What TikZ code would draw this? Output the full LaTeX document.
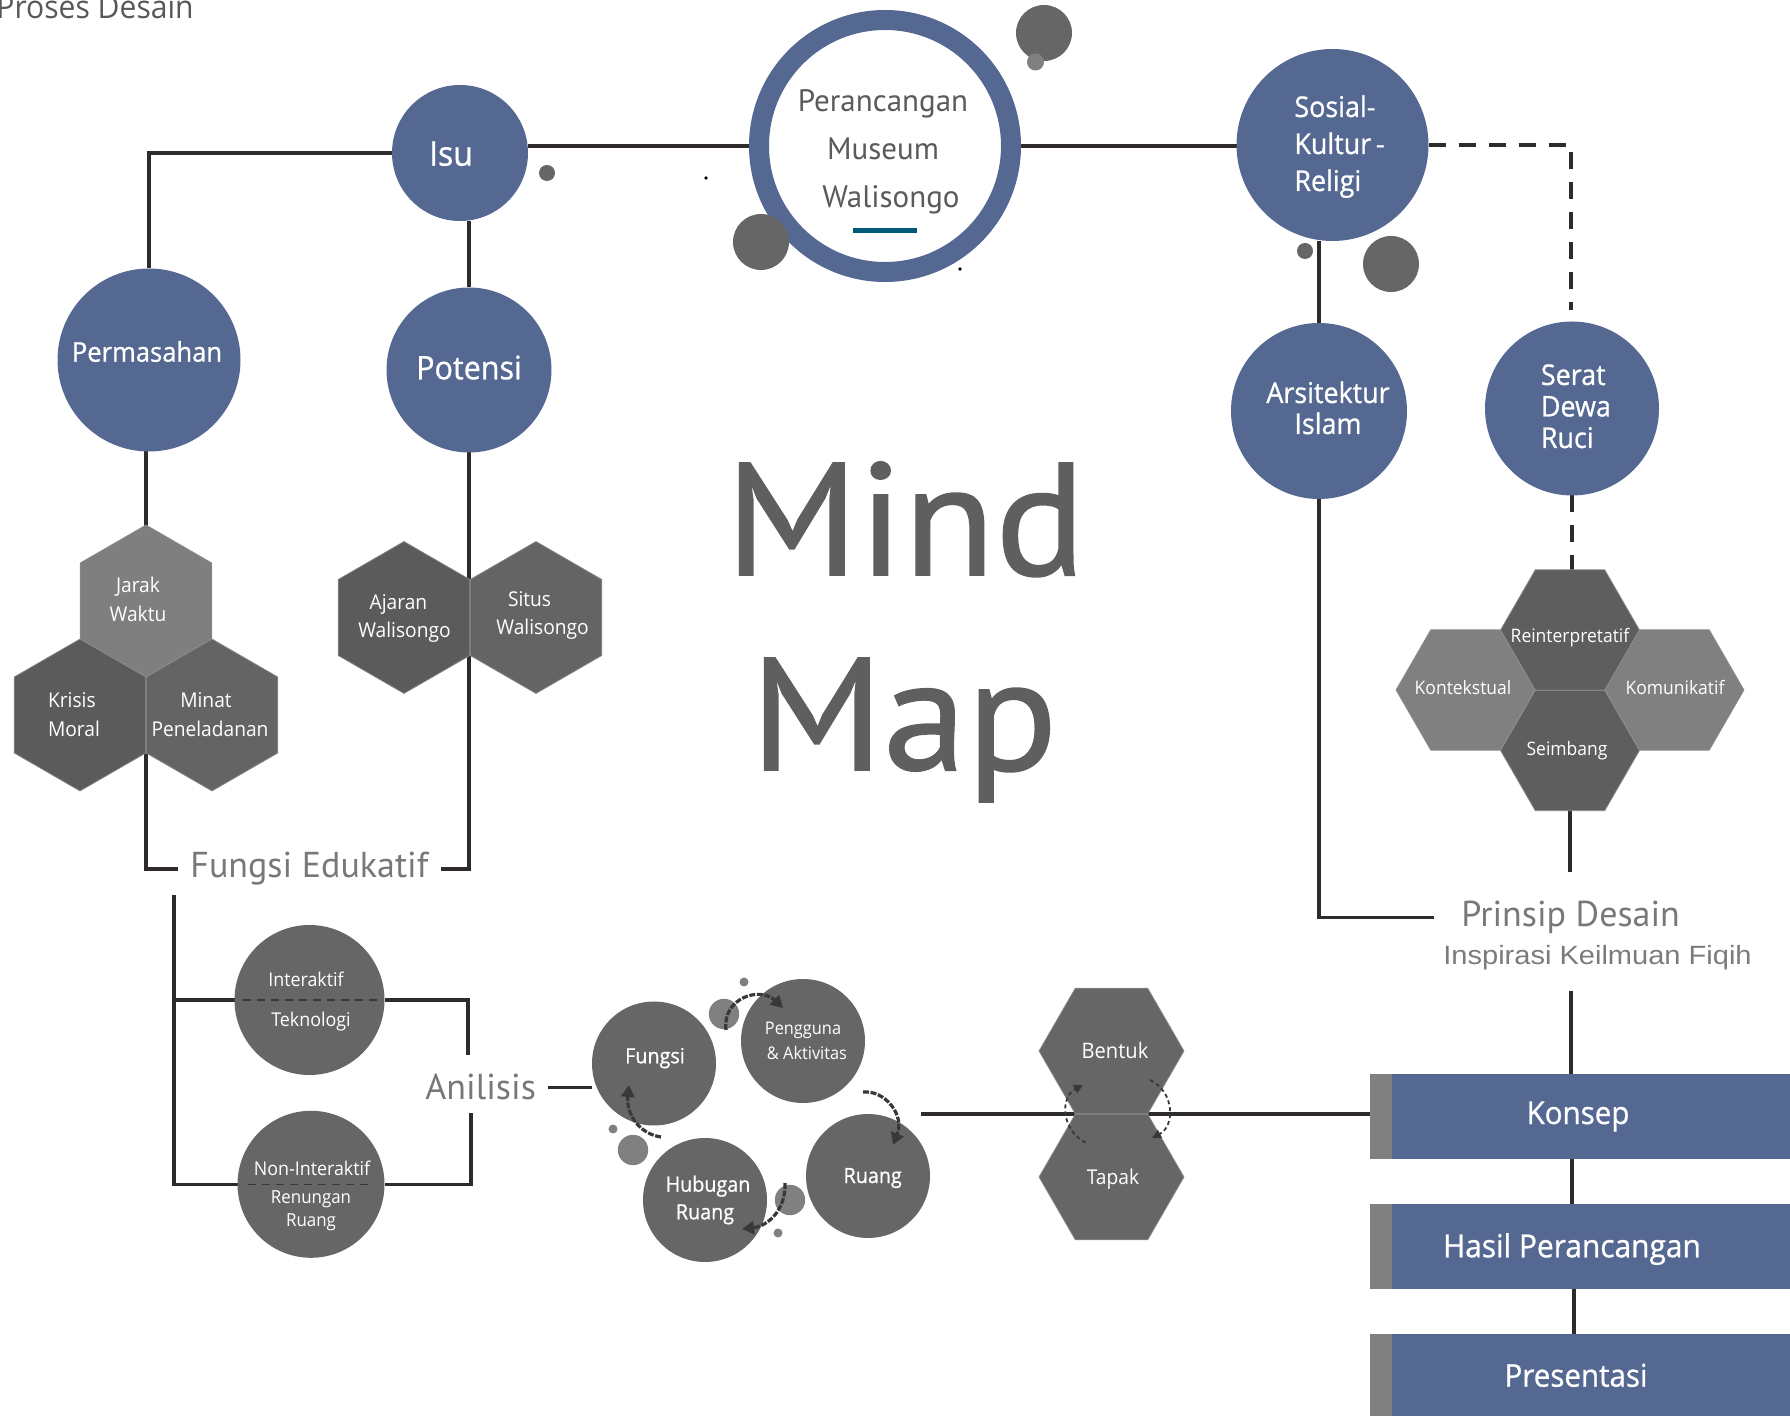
\documentclass[tikz,border=0pt]{standalone}
\usepackage{fontspec}
\setmainfont[FakeStretch=0.94]{Open Sans}
\newfontfamily\semifont[FakeStretch=0.94,FakeBold=0.8]{Open Sans}
\newfontfamily\headfont{PT Sans}
\newfontfamily\mindfont[FakeStretch=1.05,FakeBold=1]{PT Sans}
\newfontfamily\arialfont[FakeStretch=1.1]{Liberation Sans}
\usetikzlibrary{shapes.geometric,arrows.meta,calc}
\pgfdeclarelayer{bg}
\pgfsetlayers{bg,main}
\newcommand\setfs[2]{\fontsize{#1pt}{#2pt}\selectfont}
\definecolor{nodeblue}{HTML}{546892}
\definecolor{linec}{HTML}{302B2B}
\definecolor{dgray}{HTML}{666666}
\definecolor{lgray}{HTML}{808080}
\definecolor{hexL}{HTML}{7F7F7F}
\definecolor{hexD}{HTML}{5B5B5B}
\definecolor{hexM}{HTML}{646464}
\definecolor{hexR}{HTML}{5E5E5E}
\definecolor{hexedge}{HTML}{8C8C8C}
\definecolor{ttlgray}{HTML}{787878}
\definecolor{mindgray}{HTML}{5F5F5F}
\definecolor{ctext}{HTML}{5A5A5A}
\definecolor{procgray}{HTML}{585858}
\definecolor{insgray}{HTML}{7B7B7B}
\definecolor{ulteal}{HTML}{005A78}
\definecolor{arrowc}{HTML}{383838}
\tikzset{
  bluecirc/.style={circle, fill=nodeblue, inner sep=0pt, outer sep=0pt},
  graycirc/.style={circle, fill=dgray, inner sep=0pt, outer sep=0pt},
  museumring/.style={circle, draw=nodeblue, line width=10pt, fill=white, minimum size=126pt, inner sep=0pt, outer sep=5pt},
  hexp/.style={regular polygon, regular polygon sides=6, shape border rotate=30, inner sep=0pt, outer sep=0pt, draw=hexedge, line width=0.35pt},
  hexf/.style={regular polygon, regular polygon sides=6, inner sep=0pt, outer sep=0pt, draw=hexedge, line width=0.35pt},
  lbl/.style={text=white, inner sep=0pt, anchor=base},
  conn/.style={draw=linec, line width=1.75pt},
  dashpat/.style={dash pattern=on 8.5pt off 6.5pt},
  divider/.style={draw=arrowc, line width=0.65pt, dash pattern=on 4pt off 3pt},
  cycarrow/.style={draw=arrowc, line width=1.6pt, dash pattern=on 3pt off 0.8pt, -{Triangle[length=6pt,width=6.5pt]}},
  smallarrow/.style={draw=arrowc, line width=0.9pt, dash pattern=on 2pt off 1.5pt, -{Triangle[length=4.5pt,width=4.5pt]}},
  box/.style={rectangle, fill=nodeblue, inner sep=0pt, outer sep=0pt, minimum width=210pt, minimum height=42.5pt,
    path picture={\fill[lgray] (path picture bounding box.south west) rectangle ([xshift=11pt]path picture bounding box.north west);}},
  title/.style={font={\headfont\setfs{18}{20}}, text=ttlgray, anchor=base west, inner ysep=0pt},
}
\begin{document}
\begin{tikzpicture}[x=0.5pt,y=-0.5pt]
\useasboundingbox (0,0) rectangle (1790,1416);

% ---------- title ----------
\node[font={\setfs{16}{19}}, text=procgray, anchor=base west, inner sep=0pt] (proses) at (-4,19) {Proses Desain};

% ---------- blue circles ----------
\node[bluecirc, minimum size=68pt] (isu) at (460,153) {};
\node[bluecirc, minimum size=91.5pt] (perm) at (149,360) {};
\node[bluecirc, minimum size=82.5pt] (potensi) at (469,370) {};
\node[bluecirc, minimum size=96pt] (sosial) at (1332.5,145) {};
\node[bluecirc, minimum size=88pt] (arsi) at (1319,411) {};
\node[bluecirc, minimum size=87pt] (serat) at (1572,408.5) {};
\node[museumring] (museum) at (885,146) {};
\node[fill=ulteal, minimum width=32pt, minimum height=2.5pt, inner sep=0pt] (ubar) at (885,230.5) {};

\node[lbl, font={\semifont\setfs{17}{20}}] (isu-t) at (451,165.7) {Isu};
\node[lbl, font={\semifont\setfs{13.6}{16}}] (perm-t) at (147,361.7) {Permasahan};
\node[lbl, font={\semifont\setfs{16.2}{19}}] (pot-t) at (469,379.3) {Potensi};
\node[lbl, font={\semifont\setfs{14.3}{18.5}}, align=left, anchor=base west] (sos-t) at (1294,191) {Sosial-\\Kultur\,-\\Religi};
\node[lbl, font={\semifont\setfs{14.3}{15.5}}, align=center] (arsi-t) at (1328,434) {Arsitektur\\Islam};
\node[lbl, font={\semifont\setfs{14.3}{15.75}}, align=left, anchor=base west] (serat-t) at (1540.5,448) {Serat\\Dewa\\Ruci};
\node[font={\headfont\setfs{15.5}{24}}, text=ctext, align=center, anchor=base, inner sep=0pt] (museum-t) at (883,208) {Perancangan\\Museum\\\hspace*{8pt}Walisongo};

% ---------- hexagons left ----------
\node[hexp, fill=hexL, minimum size=76pt] (jarak) at (146,601) {};
\node[hexp, fill=hexD, minimum size=76pt] (krisis) at (80,715) {};
\node[hexp, fill=hexM, minimum size=76pt] (minat) at (212,715) {};
\node[hexp, fill=hexD, minimum size=76pt] (ajaran) at (404,617.5) {};
\node[hexp, fill=hexM, minimum size=76pt] (situs) at (536,617.5) {};
\node[lbl, font={\setfs{10.2}{14.5}}, align=center] (jarak-t) at (138,622) {Jarak\\Waktu};
\node[lbl, font={\setfs{10.2}{14.5}}, align=left, anchor=base west] (krisis-t) at (47.7,737) {Krisis\\Moral};
\node[lbl, font={\setfs{10.2}{14.5}}, align=center] (minat-t) at (210,737) {\hspace*{-4pt}Minat\\Peneladanan};
\node[lbl, font={\setfs{10.2}{14}}, align=center] (ajaran-t) at (404.5,638) {\hspace*{-6pt}Ajaran\\Walisongo};
\node[lbl, font={\setfs{10.2}{14}}, align=center] (situs-t) at (542.6,635) {\hspace*{-13pt}Situs\\Walisongo};

% ---------- hexagons right ----------
\node[hexf, fill=hexR, minimum size=69.5pt] (reint) at (1570,630) {};
\node[hexf, fill=hexR, minimum size=69.5pt] (seim) at (1570,750.5) {};
\node[hexf, fill=lgray, minimum size=69.5pt] (kont) at (1465.5,690) {};
\node[hexf, fill=lgray, minimum size=69.5pt] (komu) at (1674.5,690) {};
\node[lbl, font={\setfs{9.3}{11}}] (reint-t) at (1570,643) {Reinterpretatif};
\node[lbl, font={\setfs{9.3}{11}}] (kont-t) at (1463,695) {Kontekstual};
\node[lbl, font={\setfs{9.3}{11}}] (komu-t) at (1675,695) {Komunikatif};
\node[lbl, font={\setfs{9.3}{11}}] (seim-t) at (1567,756) {Seimbang};

% ---------- bentuk / tapak ----------
\node[hexf, fill=dgray, minimum size=72.5pt] (bentuk) at (1111.5,1051) {};
\node[hexf, fill=dgray, minimum size=72.5pt] (tapak) at (1111.5,1177) {};
\node[lbl, font={\setfs{10.7}{13}}] (bentuk-t) at (1115,1058.3) {Bentuk};
\node[lbl, font={\setfs{10.2}{13}}] (tapak-t) at (1113,1184) {Tapak};

% ---------- gray circles ----------
\node[graycirc, minimum size=75pt] (inter) at (309.5,1000) {};
\node[graycirc, minimum size=73.5pt] (nonint) at (311,1184.3) {};
\node[graycirc, minimum size=62pt] (fungsi) at (654,1063.5) {};
\node[graycirc, minimum size=62pt] (pengguna) at (803,1041) {};
\node[graycirc, minimum size=62pt] (ruang) at (868,1176) {};
\node[graycirc, minimum size=62pt] (hubugan) at (705,1200) {};
\draw[divider] ([xshift=4pt]inter.west) -- ([xshift=-4pt]inter.east);
\draw[divider] ([xshift=5pt]nonint.west) -- ([xshift=-7pt]nonint.east);
\node[lbl, font={\setfs{9.5}{12}}] (inter-t1) at (306,987) {Interaktif};
\node[lbl, font={\setfs{9.5}{12}}] (inter-t2) at (311,1027) {Teknologi};
\node[lbl, font={\setfs{9.5}{12}}] (non-t1) at (312,1175) {Non-Interaktif};
\node[lbl, font={\setfs{9}{11.7}}, align=center] (non-t2) at (311,1226.7) {Renungan\\Ruang};
\node[lbl, font={\semifont\setfs{10.5}{13}}] (fungsi-t) at (655,1063.3) {Fungsi};
\node[lbl, font={\setfs{8.7}{12.5}}, align=center] (peng-t) at (807,1059) {\hspace*{-4pt}Pengguna\\\& Aktivitas};
\node[lbl, font={\semifont\setfs{10.5}{13}}] (ruang-t) at (872.7,1183) {Ruang};
\node[lbl, font={\semifont\setfs{10.5}{13.8}}, align=center] (hub-t) at (708,1219.3) {Hubugan\\\hspace*{-3pt}Ruang};

% ---------- boxes ----------
\node[box] (konsep) at (1580,1116.5) {};
\node[box] (hasil) at (1580,1246.5) {};
\node[box, minimum height=50pt] (presentasi) at (1580,1384) {};
\node[lbl, font={\semifont\setfs{15.7}{19}}] (konsep-t) at (1578,1124) {Konsep};
\node[lbl, font={\semifont\setfs{15.9}{19}}] (hasil-t) at (1572,1257.3) {Hasil Perancangan};
\node[lbl, font={\semifont\setfs{15.7}{19}}] (pres-t) at (1576,1386.7) {Presentasi};

% ---------- titles ----------
\node[title, inner xsep=6pt] (fe) at (178,877.7) {Fungsi Edukatif};
\node[title, inner xsep=6pt] (an) at (413,1100) {Anilisis};
\node[title, inner xsep=13.5pt] (pd) at (1434,926.7) {Prinsip Desain};
\node[font={\arialfont\setfs{13.2}{15}}, text=insgray, anchor=base west, inner sep=0pt] (ins) at (1443,965) {Inspirasi Keilmuan Fiqih};
\node[font={\mindfont\setfs{80}{90}}, text=mindgray, anchor=base west, inner sep=0pt] (mind) at (725,575) {Mind};
\node[font={\mindfont\setfs{80}{90}}, text=mindgray, anchor=base west, inner sep=0pt] (map) at (750,770) {Map};

% ---------- free connector ends ----------
\coordinate (fe-drop) at (174,895);
\coordinate (an-top) at (468,1055);
\coordinate (an-bot) at (471,1113);
\coordinate (cyc-out) at (921,1114);
\coordinate (seim-end) at (1570,871.7);
\coordinate (ins-drop) at (1571,991);
\coordinate (serat-dash) at (1571,310);

% ---------- connectors ----------
\begin{pgfonlayer}{bg}
\draw[conn] (isu.west) -| (perm.north);
\draw[conn] (museum.west) -- (museum.west -| isu.east);
\draw[conn] (museum.east) -- (museum.east -| sosial.west);
\draw[conn] (potensi.north) -- (potensi.north |- isu.south);
\draw[conn] (jarak.center) -- (jarak.center |- perm.south);
\draw[conn] ($(krisis.center)!0.5!(minat.center)$) |- (fe.west);
\draw[conn] (potensi.south) |- (fe.east);
\draw[conn] (fe-drop) |- (nonint.west);
\draw[conn] (fe-drop |- inter.west) -- (inter.west);
\draw[conn] (inter.east) -| (an-top);
\draw[conn] (nonint.east) -| (an-bot);
\draw[conn] (an.east) -- (an.east -| fungsi.west);
\draw[conn] (cyc-out) -- (cyc-out -| konsep.west);
\draw[conn] (arsi.north) -- (arsi.north |- sosial.south);
\draw[conn] (arsi.south) |- (pd.west);
\draw[conn] (seim.center) -- (seim-end);
\draw[conn] (ins-drop) -- (ins-drop |- konsep.north);
\draw[conn] ([xshift=-4pt]konsep.south) -- ([xshift=-4pt]hasil.north);
\draw[conn] ([xshift=-3pt]hasil.south) -- ([xshift=-3pt]presentasi.north);
\draw[conn, dashpat] (sosial.east) -| (serat-dash);
\draw[conn, dashpat] (serat.south) -- (serat.south |- reint.center);
\end{pgfonlayer}

% ---------- decorative dots ----------
\fill[dgray] (547,173) circle[radius=4pt];
\fill[dgray] (1044,33) circle[radius=14pt];
\fill[lgray] (1035.5,62) circle[radius=4.25pt];
\fill[dgray] (761,242) circle[radius=14pt];
\fill[black] (706,178) circle[radius=0.9pt];
\fill[black] (960,269) circle[radius=0.9pt];
\fill[dgray] (1305,251) circle[radius=4pt];
\fill[dgray] (1391,264) circle[radius=14pt];
\fill[lgray] (744,982) circle[radius=2.25pt];
\fill[lgray] (724,1014) circle[radius=7.6pt];
\fill[lgray] (613,1129) circle[radius=2.25pt];
\fill[lgray] (633,1150) circle[radius=7.6pt];
\fill[lgray] (790,1200) circle[radius=7.6pt];
\fill[lgray] (778,1233) circle[radius=2.25pt];

% ---------- cycle arrows ----------
\draw[cycarrow] (726,1030) .. controls (722,998) and (760,986) .. (783,1008);
\draw[cycarrow] (863,1092) .. controls (885,1090) and (905,1115) .. (893,1145);
\draw[cycarrow] (785,1183) .. controls (786,1210) and (768,1226) .. (742,1229);
\draw[cycarrow] (661,1137) .. controls (640,1134) and (626,1115) .. (629,1085);
\draw[smallarrow] (1085.6,1142.7) .. controls (1061,1130) and (1060,1097) .. (1083,1085);
\draw[smallarrow] (1150,1080) .. controls (1175,1092) and (1175,1126) .. (1152,1138);
\end{tikzpicture}
\end{document}
